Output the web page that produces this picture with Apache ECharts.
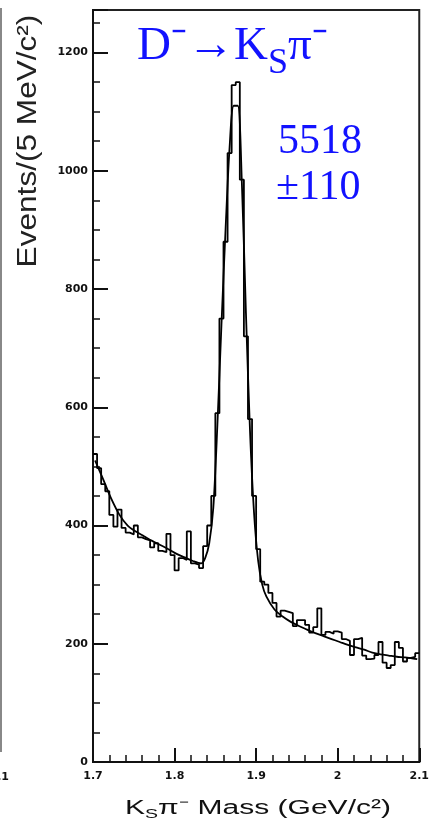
<!DOCTYPE html>
<html>
<head>
<meta charset="utf-8">
<script src="https://cdn.jsdelivr.net/npm/echarts@6/dist/echarts.min.js"></script>
<style>
html,body{margin:0;padding:0;background:#fff;}
#chart{width:432px;height:829px;}
</style>
</head>
<body>
<div id="chart"></div>
<script>
// ---- data ----
const xTickLabels = ['1.7', '1.8', '1.9', '2', '2.1'];
const yTickLabels = ['0', '200', '400', '600', '800', '1000', '1200'];
const massLow = 1.7;      // GeV/c^2, left edge of first bin
const massHigh = 2.1;     // right edge of last bin
const binWidth = 0.005;   // 5 MeV bins
const counts = [
  521, 497, 470, 458, 418, 398, 427, 396, 388, 385,
  400, 380, 377, 375, 363, 370, 357, 355, 386, 350,
  324, 345, 342, 390, 336, 334, 328, 365, 400, 450,
  590, 750, 880, 1030, 1145, 1150, 985, 720, 580, 450,
  360, 305, 300, 286, 269, 246, 256, 254, 252, 230,
  240, 240, 232, 219, 228, 260, 215, 220, 217, 221,
  219, 208, 205, 181, 208, 210, 180, 174, 175, 181,
  203, 168, 159, 164, 203, 193, 170, 176, 178, 184
];
const fitMass = [1.7025, 1.7125, 1.7225, 1.7325, 1.7425, 1.7525, 1.7625, 1.7725, 1.7825, 1.7925,
  1.8025, 1.8125, 1.8225, 1.8325, 1.8375, 1.8425, 1.8475, 1.8525, 1.8575, 1.8625,
  1.8675, 1.8725, 1.8775, 1.8825, 1.8875, 1.8925, 1.8975, 1.9025, 1.9075, 1.9125,
  1.9225, 1.9325, 1.9425, 1.9525, 1.9625, 1.9725, 1.9825, 1.9925, 2.0025, 2.0125,
  2.0225, 2.0325, 2.0425, 2.0525, 2.0625, 2.0725, 2.0825, 2.0925, 2.0975];
const fitValues = [510, 478, 445, 418, 400, 390, 382, 374, 367, 360,
  352, 346, 340, 336, 345, 370, 430, 570, 740, 900,
  1040, 1110, 1110, 980, 760, 560, 420, 340, 300, 280,
  258, 246, 237, 230, 224, 218, 213, 208, 203, 198,
  194, 190, 185, 182, 180, 178, 177, 175, 174];
const yMax = 1272;

// ---- build series data ----
const histData = counts.map((c, i) => [massLow + i * binWidth, c]);
histData.push([massHigh, counts[counts.length - 1]]);
const fitData = fitMass.map((m, i) => [m, fitValues[i]]);

const chart = echarts.init(document.getElementById('chart'), null, {renderer: 'canvas'});
const tickFont = {fontFamily: 'DejaVu Sans', fontSize: 11, fontWeight: 'bold', color: '#111'};
const blue = '#1212ff';

chart.setOption({
  animation: false,
  backgroundColor: '#fff',
  grid: {left: 93, right: 8, top: 10, bottom: 67, show: true, borderColor: '#222', borderWidth: 2, backgroundColor: 'transparent'},
  xAxis: [
    {type: 'value', min: massLow, max: massHigh, interval: 0.1, position: 'bottom',
      axisLine: {show: true, onZero: false, lineStyle: {color: '#111', width: 2}},
      axisTick: {show: true, inside: true, length: 14, lineStyle: {color: '#111', width: 2}},
      axisLabel: Object.assign({margin: 9, formatter: (v, i) => xTickLabels[i] || ''}, tickFont),
      splitLine: {show: false}},
    {type: 'value', min: massLow, max: massHigh, interval: 0.02, position: 'bottom',
      axisLine: {show: false, onZero: false},
      axisTick: {show: true, inside: true, length: 7, lineStyle: {color: '#111', width: 1.5}},
      axisLabel: {show: false}, splitLine: {show: false}}
  ],
  yAxis: [
    {type: 'value', min: 0, max: yMax, interval: 200, position: 'left',
      axisLine: {show: true, onZero: false, lineStyle: {color: '#111', width: 2}},
      axisTick: {show: true, inside: true, length: 15, lineStyle: {color: '#111', width: 2}},
      axisLabel: Object.assign({margin: 5, formatter: (v, i) => yTickLabels[i] || ''}, tickFont),
      splitLine: {show: false}},
    {type: 'value', min: 0, max: yMax, interval: 50, position: 'left',
      axisLine: {show: false, onZero: false},
      axisTick: {show: true, inside: true, length: 7, lineStyle: {color: '#111', width: 1.5}},
      axisLabel: {show: false}, splitLine: {show: false}}
  ],
  series: [
    {type: 'line', name: 'data', xAxisIndex: 0, yAxisIndex: 0, data: histData, step: 'end',
      symbol: 'none', lineStyle: {color: '#000', width: 1.8}, z: 3},
    {type: 'line', name: 'fit', xAxisIndex: 0, yAxisIndex: 0, data: fitData, smooth: 0.3,
      symbol: 'none', lineStyle: {color: '#000', width: 1.8}, z: 3}
  ],
  graphic: [
    {type: 'line', shape: {x1: 1, y1: 8, x2: 1, y2: 752}, style: {stroke: '#888', lineWidth: 2}},
    {type: 'text', x: 9, y: 777, style: {text: '2.1', align: 'right', verticalAlign: 'middle',
      font: 'bold 11px "DejaVu Sans"', fill: '#111'}},
    {type: 'text', x: 137, y: 12, style: {
      text: '{n|D⁻→K}{s|S}{n|π⁻}', align: 'left', verticalAlign: 'top', fill: blue,
      rich: {
        n: {fontFamily: 'Liberation Serif', fontSize: 47, lineHeight: 70, fill: blue},
        s: {fontFamily: 'Liberation Serif', fontSize: 36, lineHeight: 36, verticalAlign: 'bottom', fill: blue}
      }}},
    {type: 'text', x: 278, y: 142, style: {text: '5518', align: 'left', verticalAlign: 'middle',
      font: '42px "Liberation Serif"', fill: blue}},
    {type: 'text', x: 276, y: 188, style: {text: '±110', align: 'left', verticalAlign: 'middle',
      font: '42px "Liberation Serif"', fill: blue}},
    {type: 'text', x: 29, y: 141, rotation: Math.PI / 2, scaleX: 1.17, scaleY: 1,
      style: {text: 'Events/(5 MeV/c²)', align: 'center', verticalAlign: 'middle',
        font: '27px "Liberation Sans"', fill: '#222'}},
    {type: 'text', x: 258, y: 808, scaleX: 1.5, scaleY: 1, style: {
      text: '{n|K}{s|S}{n|π⁻ Mass (GeV/c²)}', align: 'center', verticalAlign: 'middle', fill: '#111',
      rich: {
        n: {fontFamily: 'Liberation Sans', fontSize: 20, lineHeight: 26, fill: '#111'},
        s: {fontFamily: 'Liberation Sans', fontSize: 13, lineHeight: 13, verticalAlign: 'bottom', fill: '#111'}
      }}}
  ]
});
</script>
</body>
</html>
